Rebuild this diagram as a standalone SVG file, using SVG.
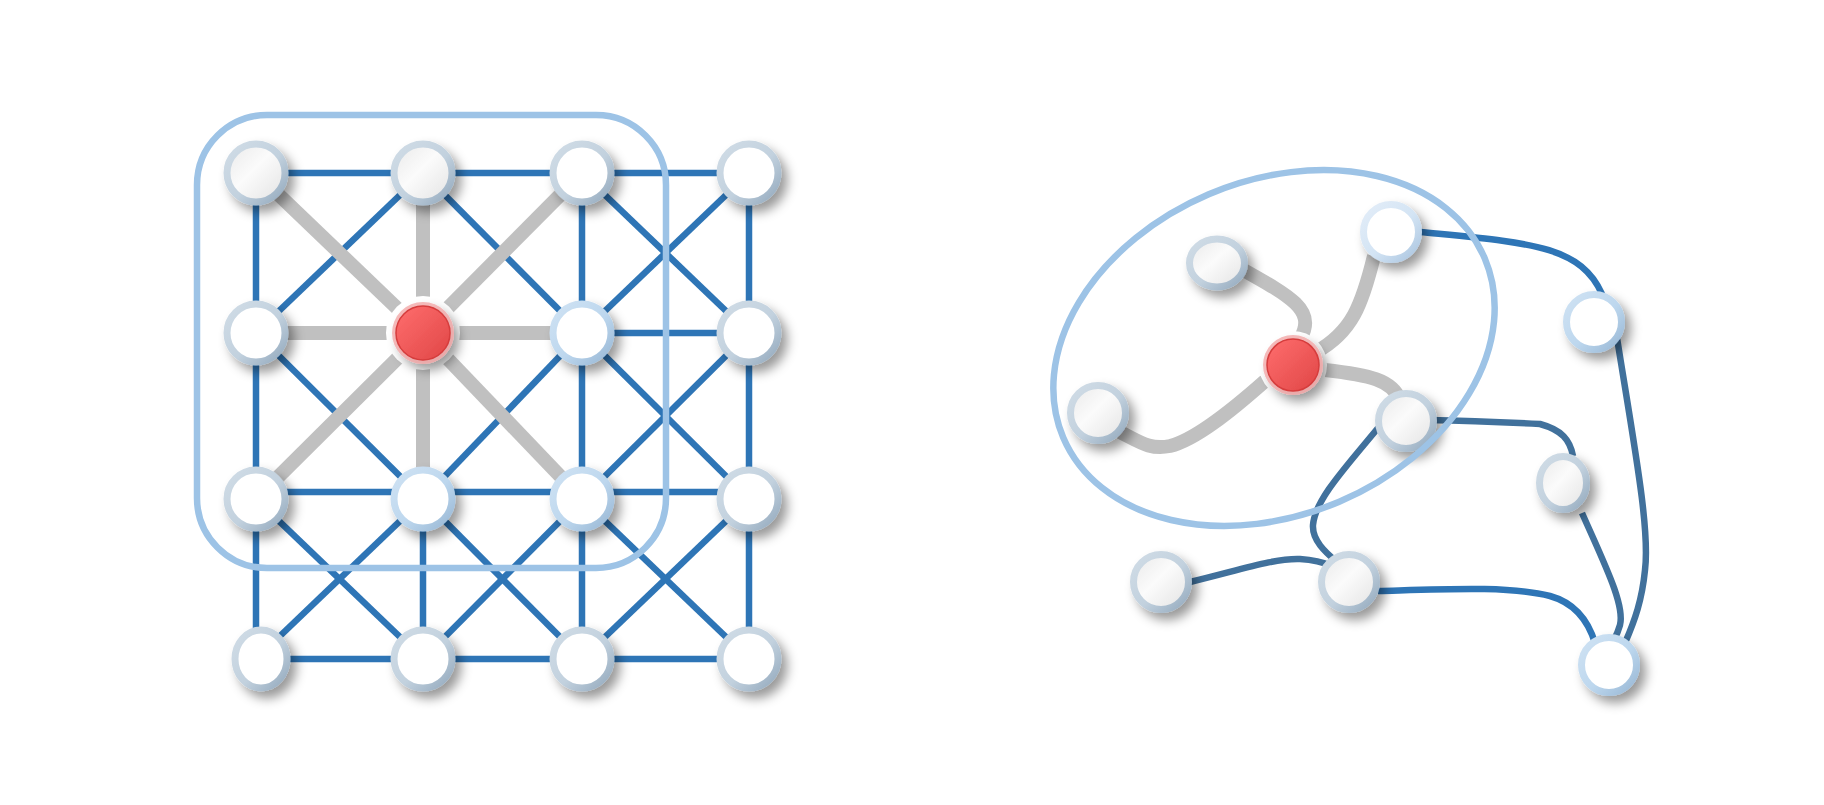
<svg xmlns="http://www.w3.org/2000/svg" width="1824" height="805" viewBox="0 0 1824 805">
<defs>
<filter id="sh" x="-60%" y="-60%" width="220%" height="220%">
<feDropShadow dx="6" dy="7" stdDeviation="5.5" flood-color="#000" flood-opacity="0.4"/>
</filter>
<linearGradient id="ringGray" x1="0" y1="0" x2="1" y2="1">
<stop offset="0" stop-color="#d0dce6"/><stop offset="0.55" stop-color="#c2d1de"/><stop offset="1" stop-color="#93a9bd"/>
</linearGradient>
<linearGradient id="ringBlue" x1="0" y1="0" x2="1" y2="1">
<stop offset="0" stop-color="#cfe2f3"/><stop offset="0.55" stop-color="#bdd7ee"/><stop offset="1" stop-color="#98b7d4"/>
</linearGradient>
<linearGradient id="ringLight" x1="0" y1="0" x2="1" y2="1">
<stop offset="0" stop-color="#e3edf8"/><stop offset="0.55" stop-color="#d3e4f4"/><stop offset="1" stop-color="#a9c4df"/>
</linearGradient>
<linearGradient id="fillGray" x1="0" y1="0" x2="1" y2="1">
<stop offset="0" stop-color="#e9e9e9"/><stop offset="0.45" stop-color="#fbfbfb"/><stop offset="1" stop-color="#e2e2e2"/>
</linearGradient>
<linearGradient id="redFill" x1="0" y1="0" x2="1" y2="1">
<stop offset="0" stop-color="#ff6e6e"/><stop offset="1" stop-color="#e04646"/>
</linearGradient>
</defs>
<style>
.rg{stroke:url(#ringGray);stroke-width:7}
.rb{stroke:url(#ringBlue);stroke-width:7}
.rl{stroke:url(#ringLight);stroke-width:7}
.fw{fill:#ffffff}
.fg{fill:url(#fillGray)}
.eb{stroke:#2e75b6;stroke-width:6.5;fill:none}
.ed{stroke:#41719c;stroke-width:6.5;fill:none}
.eg{stroke:#c0c0c0;stroke-width:14;fill:none}
.grp{stroke:#9dc3e6;stroke-width:6.5;fill:none}
.halo{fill:#ffffff}
.redrim{fill:#f2a3a3;opacity:0.75}
.redcore{fill:url(#redFill);stroke:#d63c3c;stroke-width:1.5}
</style>
<rect x="0" y="0" width="1824" height="805" fill="#ffffff"/>

<g id="connectors">
<g id="grid-blue-edges" class="eb">
<line x1="256" y1="173" x2="423" y2="173"/>
<line x1="423" y1="173" x2="582" y2="173"/>
<line x1="582" y1="173" x2="749" y2="173"/>
<line x1="582" y1="333" x2="749" y2="333"/>
<line x1="256" y1="492" x2="423" y2="492"/>
<line x1="423" y1="492" x2="582" y2="492"/>
<line x1="582" y1="492" x2="749" y2="492"/>
<line x1="256" y1="659" x2="423" y2="659"/>
<line x1="423" y1="659" x2="582" y2="659"/>
<line x1="582" y1="659" x2="749" y2="659"/>
<line x1="256" y1="173" x2="256" y2="659"/>
<line x1="423" y1="499" x2="423" y2="659"/>
<line x1="582" y1="173" x2="582" y2="659"/>
<line x1="749" y1="173" x2="749" y2="659"/>
<line x1="423" y1="173" x2="256" y2="333"/>
<line x1="423" y1="173" x2="582" y2="333"/>
<line x1="582" y1="173" x2="749" y2="333"/>
<line x1="749" y1="173" x2="582" y2="333"/>
<line x1="256" y1="333" x2="423" y2="499"/>
<line x1="582" y1="333" x2="423" y2="499"/>
<line x1="582" y1="333" x2="749" y2="499"/>
<line x1="749" y1="333" x2="582" y2="499"/>
<line x1="256" y1="499" x2="423" y2="659"/>
<line x1="423" y1="499" x2="256" y2="659"/>
<line x1="423" y1="499" x2="582" y2="659"/>
<line x1="582" y1="499" x2="423" y2="659"/>
<line x1="582" y1="499" x2="749" y2="659"/>
<line x1="749" y1="499" x2="582" y2="659"/>
</g>
<g id="grid-gray-edges" class="eg">
<line x1="423" y1="333" x2="256" y2="173"/>
<line x1="423" y1="333" x2="423" y2="173"/>
<line x1="423" y1="333" x2="582" y2="173"/>
<line x1="423" y1="333" x2="256" y2="333"/>
<line x1="423" y1="333" x2="582" y2="333"/>
<line x1="423" y1="333" x2="256" y2="499"/>
<line x1="423" y1="333" x2="423" y2="499"/>
<line x1="423" y1="333" x2="582" y2="499"/>
</g>
<g id="graph-edges">
<path class="eg" d="M1240,268 C1290,296 1316,310 1301,337"/>
<path class="eg" d="M1374,256 C1362,305 1352,332 1316,352"/>
<path class="eg" d="M1325,370 C1370,375 1392,380 1400,400"/>
<path class="eg" d="M1120,432 C1140,442 1150,450 1170,446 C1195,440 1230,412 1265,381"/>
<path class="eb" d="M1420,232 C1530,243 1580,245 1602,294"/>
<path class="ed" d="M1617,338 C1635,450 1650,530 1645,570 C1642,600 1635,620 1625,643"/>
<path class="ed" d="M1427,420 C1480,421 1520,423 1540,424 C1562,430 1570,440 1573,456"/>
<path class="ed" d="M1582,513 C1605,565 1625,605 1620,625 C1618,632 1616,636 1614,640"/>
<path class="eb" d="M1378,591 C1450,589 1510,586 1550,596 C1575,603 1588,620 1595,643"/>
<path class="ed" d="M1378,428 C1345,468 1315,500 1313,525 C1312,540 1325,552 1337,562"/>
<path class="ed" d="M1190,582 C1240,570 1275,558 1300,559 C1315,560 1325,563 1332,566"/>
</g>
</g>

<g id="group-rect"><rect class="grp" x="197" y="115" width="469" height="453" rx="70" ry="70"/></g>

<g id="grid-nodes">
<g id="n00" filter="url(#sh)"><circle class="rg fg" cx="256" cy="173" r="29"/></g>
<g id="n10" filter="url(#sh)"><circle class="rg fg" cx="423" cy="173" r="29"/></g>
<g id="n20" filter="url(#sh)"><circle class="rg fw" cx="582" cy="173" r="29"/></g>
<g id="n30" filter="url(#sh)"><circle class="rg fw" cx="749" cy="173" r="29"/></g>
<g id="n01" filter="url(#sh)"><circle class="rg fw" cx="256" cy="333" r="29"/></g>
<g id="n11"><circle class="halo" cx="423" cy="333" r="37"/><g filter="url(#sh)"><circle class="redrim" cx="423" cy="333" r="31"/><circle class="redcore" cx="423" cy="333" r="27"/></g></g>
<g id="n21" filter="url(#sh)"><circle class="rb fw" cx="582" cy="333" r="29"/></g>
<g id="n31" filter="url(#sh)"><circle class="rg fw" cx="749" cy="333" r="29"/></g>
<g id="n02" filter="url(#sh)"><circle class="rg fw" cx="256" cy="499" r="29"/></g>
<g id="n12" filter="url(#sh)"><circle class="rb fw" cx="423" cy="499" r="29"/></g>
<g id="n22" filter="url(#sh)"><circle class="rb fw" cx="582" cy="499" r="29"/></g>
<g id="n32" filter="url(#sh)"><circle class="rg fw" cx="749" cy="499" r="29"/></g>
<g id="n03" filter="url(#sh)"><ellipse class="rg fw" cx="261" cy="659" rx="26" ry="29"/></g>
<g id="n13" filter="url(#sh)"><circle class="rg fw" cx="423" cy="659" r="29"/></g>
<g id="n23" filter="url(#sh)"><circle class="rg fw" cx="582" cy="659" r="29"/></g>
<g id="n33" filter="url(#sh)"><circle class="rg fw" cx="749" cy="659" r="29"/></g>
</g>

<g id="graph-nodes">
<g id="gA" filter="url(#sh)"><ellipse class="rg fg" cx="1217" cy="263" rx="27.5" ry="24"/></g>
<g id="gB" filter="url(#sh)"><circle class="rl fw" cx="1391" cy="232" r="27.5"/></g>
<g id="gRed"><circle class="halo" cx="1293" cy="365" r="34"/><g filter="url(#sh)"><circle class="redrim" cx="1293" cy="365" r="30"/><circle class="redcore" cx="1293" cy="365" r="26"/></g></g>
<g id="gC" filter="url(#sh)"><circle class="rg fg" cx="1098" cy="413" r="27.5"/></g>
<g id="gD" filter="url(#sh)"><circle class="rg fg" cx="1406" cy="421" r="27.5"/></g>
<g id="gE" filter="url(#sh)"><circle class="rb fw" cx="1594" cy="322" r="27.5"/></g>
<g id="gF" filter="url(#sh)"><ellipse class="rg fg" cx="1563" cy="483" rx="23.5" ry="26.5"/></g>
<g id="gG" filter="url(#sh)"><circle class="rg fg" cx="1161" cy="582" r="27.5"/></g>
<g id="gH" filter="url(#sh)"><circle class="rg fg" cx="1349" cy="582" r="27.5"/></g>
<g id="gI" filter="url(#sh)"><circle class="rb fw" cx="1609" cy="665" r="27.5"/></g>
</g>

<g id="group-ellipse"><ellipse class="grp" cx="1274" cy="348" rx="229" ry="167" transform="rotate(-23 1274 348)"/></g>
</svg>
